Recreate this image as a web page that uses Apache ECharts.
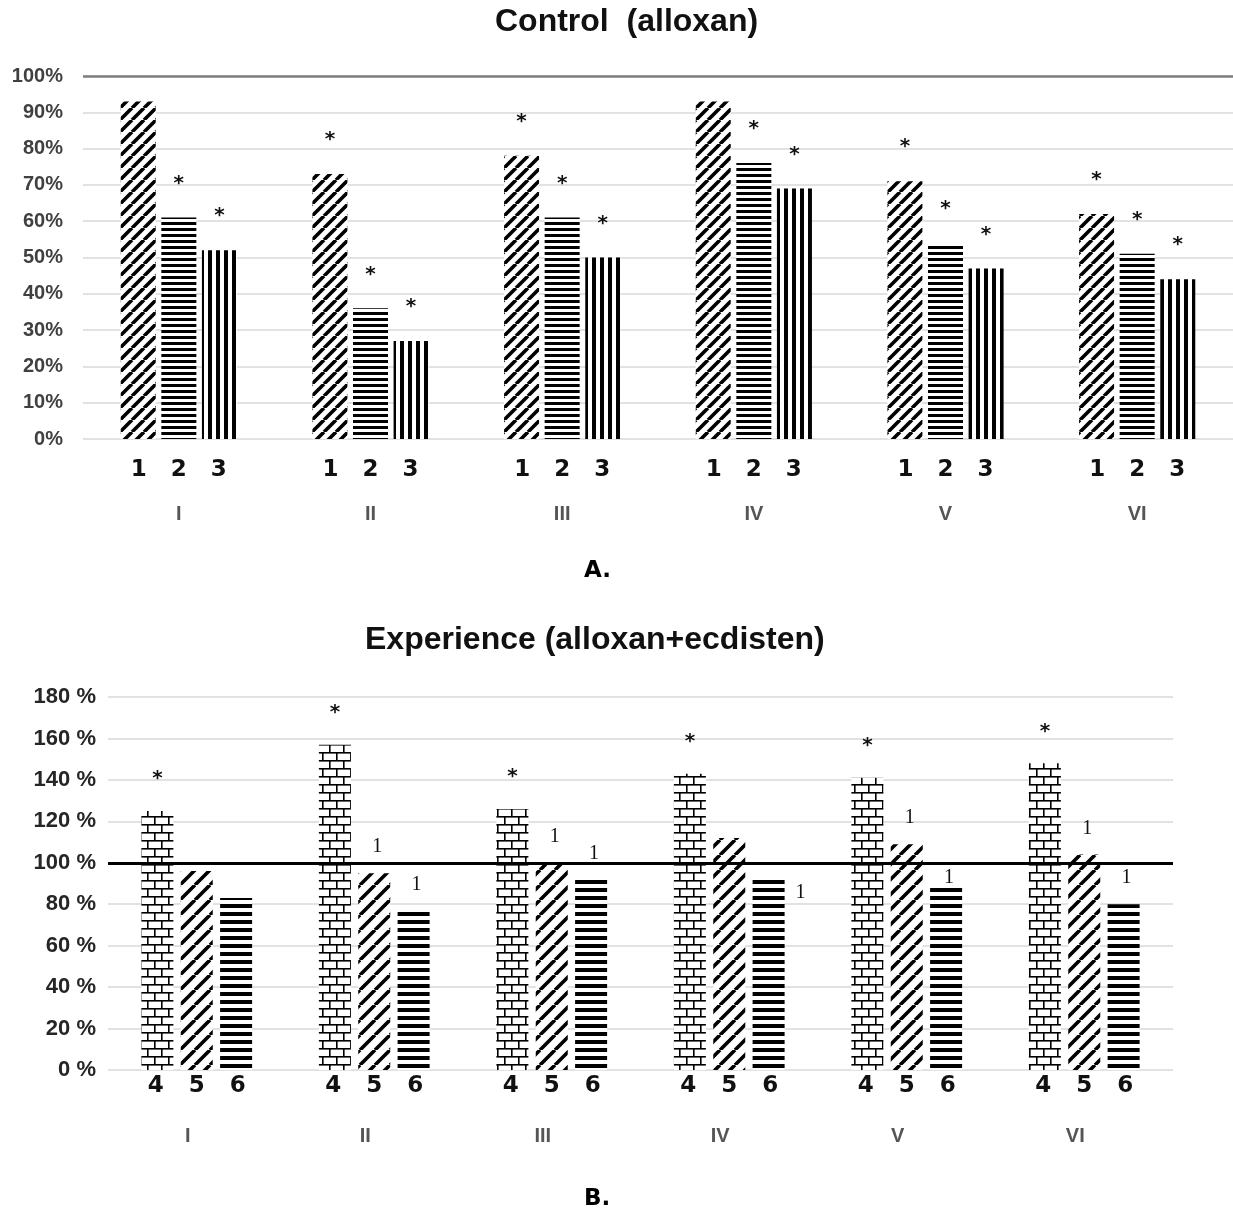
<!DOCTYPE html>
<html><head><meta charset="utf-8">
<script src="https://cdn.jsdelivr.net/npm/echarts@6/dist/echarts.min.js"></script>
<style>html,body{margin:0;padding:0;background:#fff}#c{width:1233px;height:1214px}</style>
</head><body><div id="c"></div>
<script>
// ---------- data ----------
const groups = ['I', 'II', 'III', 'IV', 'V', 'VI'];
const ctrlBarNames = ['1', '2', '3'];
const ctrl1 = [93, 73, 78, 93, 71, 62];
const ctrl2 = [61, 36, 61, 76, 54, 51];
const ctrl3 = [52, 27, 50, 69, 47, 44];
const ctrlMarks1 = ['', '*', '*', '', '*', '*'];
const ctrlMarks2 = ['*', '*', '*', '*', '*', '*'];
const ctrlMarks3 = ['*', '*', '*', '*', '*', '*'];
const ctrlTicks = [0, 10, 20, 30, 40, 50, 60, 70, 80, 90, 100];

const expBarNames = ['4', '5', '6'];
const exp4 = [125, 157, 126, 143, 141, 148];
const exp5 = [96, 95, 100, 112, 109, 104];
const exp6 = [83, 77, 92, 92, 88, 80];
const expMarks4 = ['*', '*', '*', '*', '*', '*'];
const expMarks5 = ['', '1', '1', '', '1', '1'];
const expMarks6 = ['', '1', '1', '1', '1', '1'];
const expTicks = [0, 20, 40, 60, 80, 100, 120, 140, 160, 180];

const ctrlTitle = 'Control  (alloxan)';
const expTitle = 'Experience (alloxan+ecdisten)';

// ---------- patterns ----------
function tile(w, h, draw) {
  const c = document.createElement('canvas');
  c.width = w; c.height = h;
  const g = c.getContext('2d');
  g.fillStyle = '#fff'; g.fillRect(0, 0, w, h);
  g.fillStyle = '#000'; g.strokeStyle = '#000';
  draw(g);
  return { image: c, repeat: 'repeat' };
}
function diag(p, lw) {
  return tile(p, p, g => {
    g.lineWidth = lw;
    g.beginPath();
    for (let k = -1; k <= 1; k++) { g.moveTo(k * p, p); g.lineTo(k * p + p, 0); }
    g.stroke();
  });
}
function horiz(p, lw) { return tile(4, p, g => g.fillRect(0, 0, 4, lw)); }
function vert(p, lw) { return tile(p, 4, g => g.fillRect(0, 0, lw, 4)); }
function brick(w, h, lw) {
  return tile(w, 2 * h, g => {
    g.fillRect(0, 0, w, lw);
    g.fillRect(0, h, w, lw);
    g.fillRect(0, 0, lw, h);
    g.fillRect(w / 2, h, lw, h);
  });
}

const pDiagTop = diag(12, 3.6);
const pHorTop = horiz(6, 3);
const pVerTop = vert(8, 4);
const pBrick = brick(14, 8, 1.6);
const pDiagBot = diag(15, 3.6);
const pHorBot = horiz(8, 4);

// ---------- helpers ----------
function markData(vals, marks, overrides) {
  return vals.map((v, i) => {
    const item = { value: v };
    const ov = overrides && overrides[i];
    item.label = Object.assign({ show: !!marks[i], formatter: marks[i] || '' }, ov || {});
    return item;
  });
}
const starLabel = { position: 'top', fontSize: 20, fontWeight: 'bold', fontFamily: 'DejaVu Sans', color: '#111' };
const oneLabel = { position: 'top', distance: 16, offset: [3, 0], fontSize: 20, fontFamily: 'Liberation Serif', color: '#111' };

const chart = echarts.init(document.getElementById('c'), null, { renderer: 'canvas' });
chart.setOption({
  animation: false,
  backgroundColor: '#fff',
  title: [
    { text: ctrlTitle, left: 495, top: 6, padding: 0, textStyle: { fontFamily: 'Liberation Sans', fontSize: 32, fontWeight: 'bold', color: '#111' } },
    { text: expTitle, left: 365, top: 624, padding: 0, textStyle: { fontFamily: 'Liberation Sans', fontSize: 32, fontWeight: 'bold', color: '#111' } },
    { text: 'A.', left: 584, top: 560, padding: 0, textStyle: { fontFamily: 'DejaVu Sans', fontSize: 23, fontWeight: 'bold', color: '#000' } },
    { text: 'B.', left: 584, top: 1188, padding: 0, textStyle: { fontFamily: 'DejaVu Sans', fontSize: 23, fontWeight: 'bold', color: '#000' } }
  ],
  grid: [
    { left: 83, right: 0, top: 76, height: 363, outerBoundsMode: 'none' },
    { left: 108, right: 60, top: 697, height: 373, outerBoundsMode: 'none' }
  ],
  xAxis: [
    {
      type: 'category', gridIndex: 0, data: groups,
      axisLine: { show: false }, axisTick: { show: false },
      axisLabel: {
        interval: 0, margin: 18,
        formatter: v => ctrlBarNames.map(n => '{n|' + n + '}').join('') + '\n{c|' + v + '}',
        rich: {
          n: { width: 40, align: 'center', fontFamily: 'DejaVu Sans', fontWeight: 'bold', fontSize: 23, lineHeight: 26, color: '#111' },
          c: { align: 'center', fontFamily: 'Liberation Sans', fontWeight: 'bold', fontSize: 20, lineHeight: 62, color: '#555' }
        }
      }
    },
    {
      type: 'category', gridIndex: 1, data: groups,
      axisLine: { show: false }, axisTick: { show: false },
      axisLabel: {
        interval: 0, margin: 5,
        formatter: v => expBarNames.map(n => '{n|' + n + '}').join('') + '\n{c|' + v + '}',
        rich: {
          n: { width: 41, align: 'center', fontFamily: 'DejaVu Sans', fontWeight: 'bold', fontSize: 23, lineHeight: 22, color: '#111' },
          c: { align: 'center', fontFamily: 'Liberation Sans', fontWeight: 'bold', fontSize: 20, lineHeight: 78, color: '#555', padding: [0, 18, 0, 0] }
        }
      }
    }
  ],
  yAxis: [
    {
      type: 'value', gridIndex: 0,
      min: ctrlTicks[0], max: ctrlTicks[ctrlTicks.length - 1], interval: ctrlTicks[1] - ctrlTicks[0],
      axisLine: { show: false }, axisTick: { show: false },
      splitLine: { lineStyle: { color: '#d9d9d9', width: 1.5 } },
      axisLabel: { margin: 20, formatter: '{value}%', fontFamily: 'Liberation Sans', fontWeight: 'bold', fontSize: 20, color: '#404040' }
    },
    {
      type: 'value', gridIndex: 1,
      min: expTicks[0], max: expTicks[expTicks.length - 1], interval: expTicks[1] - expTicks[0],
      axisLine: { show: false }, axisTick: { show: false },
      splitLine: { lineStyle: { color: '#d9d9d9', width: 1.5 } },
      axisLabel: { margin: 12, formatter: '{value} %', fontFamily: 'Liberation Sans', fontWeight: 'bold', fontSize: 22, color: '#262626', padding: [0, 0, 8, 0] }
    }
  ],
  series: [
    {
      type: 'bar', name: ctrlBarNames[0], xAxisIndex: 0, yAxisIndex: 0, barWidth: 35, barGap: '16%',
      itemStyle: { color: pDiagTop },
      label: Object.assign({ distance: 24 }, starLabel),
      data: markData(ctrl1, ctrlMarks1),
      markLine: {
        silent: true, symbol: 'none', label: { show: false },
        lineStyle: { color: '#7f7f7f', width: 2.5, type: 'solid' },
        data: [{ yAxis: ctrlTicks[ctrlTicks.length - 1] }]
      }
    },
    {
      type: 'bar', name: ctrlBarNames[1], xAxisIndex: 0, yAxisIndex: 0, barWidth: 35, barGap: '16%',
      itemStyle: { color: pHorTop },
      label: Object.assign({ distance: 24 }, starLabel),
      data: markData(ctrl2, ctrlMarks2)
    },
    {
      type: 'bar', name: ctrlBarNames[2], xAxisIndex: 0, yAxisIndex: 0, barWidth: 35, barGap: '16%',
      itemStyle: { color: pVerTop },
      label: Object.assign({ distance: 24 }, starLabel),
      data: markData(ctrl3, ctrlMarks3)
    },
    {
      type: 'bar', name: expBarNames[0], xAxisIndex: 1, yAxisIndex: 1, barWidth: 32, barGap: '23%',
      itemStyle: { color: pBrick },
      label: Object.assign({ distance: 22 }, starLabel),
      data: markData(exp4, expMarks4)
    },
    {
      type: 'bar', name: expBarNames[1], xAxisIndex: 1, yAxisIndex: 1, barWidth: 32, barGap: '23%',
      itemStyle: { color: pDiagBot },
      label: oneLabel,
      data: markData(exp5, expMarks5),
      markLine: {
        silent: true, symbol: 'none', label: { show: false }, z: 10,
        lineStyle: { color: '#000', width: 3, type: 'solid' },
        data: [{ yAxis: 100 }]
      }
    },
    {
      type: 'bar', name: expBarNames[2], xAxisIndex: 1, yAxisIndex: 1, barWidth: 32, barGap: '23%',
      itemStyle: { color: pHorBot },
      label: oneLabel,
      data: markData(exp6, expMarks6, { 3: { position: [40, 3] }, 4: { distance: 0 } })
    }
  ]
});
</script>
</body></html>
